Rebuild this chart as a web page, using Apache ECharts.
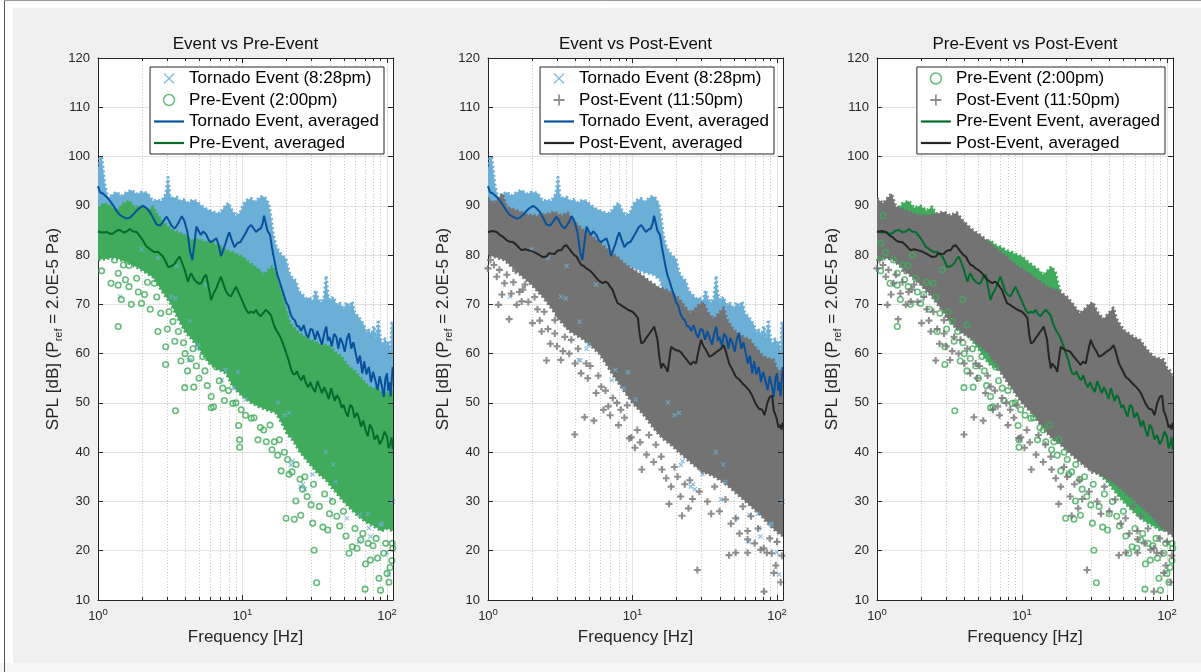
<!DOCTYPE html>
<html>
<head>
<meta charset="utf-8">
<title>SPL spectra: tornado event vs pre/post event</title>
<script src="https://cdn.jsdelivr.net/npm/echarts/dist/echarts.min.js"></script>
<style>
  html, body { margin: 0; padding: 0; background: #f0f0f0; }
  #chart { width: 1201px; height: 672px; }
</style>
</head>
<body>
<div id="chart"></div>
<script>
// ---------------------------------------------------------------------------
// Axis ranges and labels
// ---------------------------------------------------------------------------
const PANEL_TITLES = ['Event vs Pre-Event', 'Event vs Post-Event', 'Pre-Event vs Post-Event'];
const X_NAME = 'Frequency [Hz]';
const Y_NAME = 'SPL [dB] (P{s|ref} = 2.0E-5 Pa)';
const X_MIN = 1, X_MAX = 110;
const Y_MIN = 10, Y_MAX = 120, Y_STEP = 10;
const MINOR_FREQ = [2, 3, 4, 5, 6, 7, 8, 9, 20, 30, 40, 50, 60, 70, 80, 90];

// Legend entries
const NAME_TORNADO = 'Tornado Event (8:28pm)';
const NAME_PRE = 'Pre-Event (2:00pm)';
const NAME_POST = 'Post-Event (11:50pm)';
const NAME_TORNADO_AVG = 'Tornado Event, averaged';
const NAME_PRE_AVG = 'Pre-Event, averaged';
const NAME_PRE_AVG_3 = 'Pre-Event Event, averaged';
const NAME_POST_AVG = 'Post-Event, averaged';

// ---------------------------------------------------------------------------
// Averaged spectra, [frequency Hz, SPL dB]
// ---------------------------------------------------------------------------
const TORNADO_AVG = [
  [1.00, 94.0], [1.03, 92.8], [1.08, 92.5], [1.15, 91.8], [1.21, 91.0], [1.28, 90.0], [1.34, 89.0],
  [1.40, 88.3], [1.48, 87.8], [1.58, 87.4], [1.66, 87.6], [1.75, 88.2], [1.85, 89.0], [1.95, 89.6],
  [2.05, 90.0], [2.15, 89.6], [2.28, 88.8], [2.40, 87.6], [2.54, 86.2], [2.70, 86.0], [2.85, 87.0],
  [2.98, 87.8], [3.10, 87.0], [3.22, 86.0], [3.40, 85.4], [3.60, 86.5], [3.80, 87.9], [3.95, 87.0],
  [4.15, 84.8], [4.35, 80.5], [4.50, 79.0], [4.65, 82.5], [4.80, 85.8], [4.95, 85.0], [5.15, 84.1],
  [5.35, 84.8], [5.60, 84.2], [5.85, 83.0], [6.05, 82.6], [6.30, 83.0], [6.60, 83.4], [6.85, 82.0],
  [7.10, 79.8], [7.35, 81.0], [7.60, 82.2], [7.85, 83.6], [8.10, 84.6], [8.40, 83.2], [8.80, 81.6],
  [9.20, 82.4], [9.70, 82.7], [10.2, 83.8], [10.6, 84.7], [11.0, 85.6], [11.5, 86.1], [12.0, 85.3],
  [12.4, 84.7], [12.9, 85.2], [13.4, 85.4], [13.8, 86.5], [14.1, 88.0], [14.5, 86.4], [14.9, 84.9],
  [15.5, 84.1], [16.0, 81.5], [16.6, 79.0], [17.0, 77.4], [17.5, 75.8], [18.0, 74.8], [18.5, 73.6],
  [19.2, 72.2], [20.0, 70.5], [20.8, 69.6], [21.5, 68.0], [22.2, 67.2], [23.0, 66.8], [23.8, 65.6],
  [24.6, 65.5], [25.5, 64.6], [26.5, 65.8], [27.5, 64.1], [28.5, 63.2], [29.5, 65.0], [30.6, 64.8],
  [31.8, 62.8], [33.0, 64.6], [34.0, 63.4], [35.5, 61.8], [36.8, 64.2], [38.0, 65.5], [39.0, 62.6],
  [40.0, 63.4], [41.5, 61.5], [43.0, 64.0], [44.6, 63.4], [46.0, 61.0], [47.5, 63.2], [49.3, 62.1],
  [51.0, 60.4], [52.8, 63.0], [54.6, 64.1], [56.5, 61.0], [58.5, 62.3], [60.7, 60.1], [62.8, 58.0],
  [65.0, 59.6], [67.4, 56.0], [69.5, 58.4], [72.0, 55.8], [74.8, 57.3], [77.5, 54.2], [80.0, 56.3],
  [83.0, 54.6], [86.0, 52.6], [89.0, 55.4], [92.3, 53.3], [95.0, 51.2], [97.5, 55.0], [100, 56.0],
  [102, 52.5], [104, 54.2], [106, 51.3], [108, 55.0], [109.5, 57.3]
];

const PRE_AVG = [
  [1.00, 84.8], [1.06, 84.6], [1.15, 84.7], [1.22, 84.3], [1.27, 84.4], [1.35, 85.0], [1.42, 85.1],
  [1.50, 84.6], [1.58, 84.8], [1.66, 85.3], [1.75, 84.8], [1.85, 84.7], [1.93, 84.0], [2.00, 83.4],
  [2.08, 82.6], [2.17, 81.7], [2.25, 81.4], [2.34, 81.0], [2.46, 80.6], [2.60, 80.7], [2.72, 80.1],
  [2.82, 79.7], [2.95, 78.6], [3.05, 77.6], [3.14, 77.3], [3.25, 77.8], [3.40, 78.3], [3.55, 79.2],
  [3.68, 79.7], [3.80, 78.6], [3.98, 77.0], [4.10, 75.6], [4.20, 74.6], [4.32, 75.8], [4.42, 76.3],
  [4.60, 75.2], [4.79, 74.6], [5.00, 74.2], [5.18, 74.3], [5.40, 75.5], [5.60, 76.0], [5.80, 73.8],
  [6.07, 70.9], [6.30, 72.2], [6.60, 73.3], [6.85, 74.6], [7.10, 75.6], [7.40, 74.0], [7.70, 72.6],
  [8.00, 71.9], [8.30, 71.6], [8.65, 72.6], [9.00, 73.6], [9.40, 72.4], [9.80, 71.2], [10.2, 70.0],
  [10.6, 68.9], [11.0, 68.2], [11.5, 68.5], [12.0, 68.3], [12.4, 68.9], [12.9, 68.0], [13.4, 67.6],
  [13.9, 68.2], [14.5, 68.9], [15.1, 68.4], [15.8, 67.7], [16.4, 66.0], [17.1, 64.8], [17.8, 64.0],
  [18.5, 63.0], [19.2, 61.8], [20.0, 60.2], [20.8, 58.8], [21.5, 57.2], [22.2, 56.0], [23.0, 55.8],
  [23.8, 56.4], [24.6, 55.3], [25.5, 54.6], [26.5, 55.6], [27.5, 54.0], [28.5, 53.2], [29.5, 54.2],
  [30.6, 53.0], [31.8, 52.2], [33.0, 54.4], [34.0, 54.0], [35.5, 52.0], [36.8, 53.2], [37.9, 52.3],
  [39.5, 50.8], [41.0, 53.0], [42.0, 52.6], [43.5, 50.4], [45.0, 51.6], [46.6, 50.9], [48.5, 49.0],
  [50.0, 49.6], [51.8, 48.2], [53.5, 47.2], [55.5, 49.6], [57.5, 49.2], [59.5, 47.0], [62.0, 48.0],
  [64.0, 46.9], [66.0, 45.2], [68.5, 46.4], [71.0, 44.5], [73.5, 43.2], [76.0, 45.6], [79.0, 44.7],
  [82.0, 42.6], [85.5, 43.5], [89.0, 41.6], [92.5, 42.5], [96.0, 44.2], [100, 43.2], [102.5, 40.8],
  [105, 41.5], [107.5, 43.0], [109.5, 40.6]
];

const POST_AVG = [
  [1.00, 84.7], [1.08, 84.9], [1.15, 84.7], [1.22, 84.0], [1.27, 83.7], [1.35, 83.0], [1.42, 82.7],
  [1.50, 82.6], [1.58, 82.0], [1.65, 81.4], [1.71, 81.0], [1.80, 81.2], [1.90, 81.0], [2.05, 80.7],
  [2.15, 80.4], [2.28, 80.0], [2.40, 79.6], [2.54, 79.7], [2.65, 80.4], [2.75, 80.3], [2.88, 80.2],
  [2.98, 80.7], [3.10, 81.0], [3.22, 81.0], [3.35, 81.8], [3.49, 82.0], [3.62, 81.4], [3.77, 80.7],
  [3.95, 80.0], [4.10, 79.7], [4.25, 78.8], [4.42, 78.0], [4.60, 77.8], [4.79, 77.3], [5.05, 76.9],
  [5.30, 76.3], [5.55, 75.6], [5.77, 75.0], [6.00, 74.6], [6.23, 74.3], [6.50, 74.6], [6.75, 74.3],
  [7.00, 73.6], [7.30, 72.9], [7.60, 71.4], [7.90, 70.2], [8.20, 70.0], [8.56, 69.6], [8.90, 69.3],
  [9.30, 68.9], [9.65, 68.7], [10.0, 68.5], [10.4, 68.0], [10.9, 67.2], [11.2, 64.0], [11.5, 62.1],
  [12.0, 62.4], [12.4, 63.1], [12.9, 63.8], [13.4, 64.5], [13.8, 65.0], [14.1, 65.5], [14.5, 64.2],
  [14.9, 62.8], [15.3, 59.5], [15.8, 57.0], [16.2, 58.0], [16.6, 57.7], [17.1, 57.0], [17.5, 56.3],
  [18.0, 59.0], [18.5, 61.4], [19.2, 61.0], [20.0, 60.7], [20.8, 60.6], [21.6, 60.3], [22.5, 59.6],
  [23.4, 59.0], [24.3, 58.4], [25.3, 57.7], [26.3, 58.4], [27.5, 58.0], [28.6, 60.5], [29.8, 62.8],
  [31.0, 61.5], [32.3, 60.7], [34.0, 59.4], [35.8, 59.7], [37.5, 60.2], [39.7, 60.7], [41.0, 61.0],
  [42.9, 61.7], [44.5, 60.2], [46.6, 58.0], [49.0, 56.8], [51.8, 55.3], [54.5, 54.8], [57.5, 54.0],
  [60.5, 53.4], [64.0, 52.6], [67.0, 51.6], [71.0, 49.9], [75.0, 48.8], [79.0, 48.6], [82.0, 47.5],
  [85.5, 49.9], [89.0, 51.2], [92.5, 51.5], [95.0, 48.4], [97.5, 47.6], [100, 46.5], [102.5, 45.0],
  [105, 45.5], [107.5, 44.6], [109.5, 46.0]
];

// ---------------------------------------------------------------------------
// Dense cores of the raw spectra: upper and lower edges, [frequency Hz, SPL dB]
// ---------------------------------------------------------------------------
const TORNADO_UPPER = [
  [1.00, 97.5], [1.03, 99.5], [1.06, 100.0], [1.09, 97.0], [1.12, 94.0], [1.18, 91.5], [1.25, 92.3],
  [1.35, 92.8], [1.45, 92.0], [1.55, 92.6], [1.70, 93.2], [1.85, 92.4], [2.00, 92.8], [2.20, 92.6],
  [2.40, 91.0], [2.55, 91.2], [2.75, 91.0], [2.95, 92.5], [3.05, 95.8], [3.15, 92.0], [3.30, 91.6],
  [3.50, 91.8], [3.70, 91.0], [3.90, 91.3], [4.20, 90.6], [4.50, 91.2], [4.80, 91.0], [5.20, 90.0],
  [5.60, 89.4], [6.00, 89.0], [6.50, 88.6], [7.00, 88.5], [7.50, 89.8], [8.00, 90.6], [8.50, 89.0],
  [9.00, 88.0], [9.60, 88.6], [10.2, 90.4], [10.8, 91.2], [11.5, 91.5], [12.2, 90.8], [13.0, 91.6],
  [13.8, 92.0], [14.5, 91.5], [15.2, 90.4], [15.8, 87.5], [16.3, 84.4], [17.0, 82.0], [18.0, 80.6],
  [19.0, 79.8], [20.0, 79.3], [21.0, 76.5], [22.2, 75.3], [23.4, 74.8], [24.6, 72.6], [26.0, 72.0],
  [27.5, 71.2], [29.0, 71.4], [30.6, 70.6], [32.0, 72.9], [33.5, 71.0], [35.0, 70.4], [36.5, 71.2],
  [37.9, 75.8], [39.0, 72.0], [40.5, 70.8], [42.5, 71.5], [45.0, 69.8], [47.5, 70.2], [50.0, 69.0],
  [52.5, 70.4], [55.0, 69.6], [57.5, 70.6], [60.0, 68.2], [63.0, 67.6], [66.0, 66.8], [69.0, 66.0],
  [72.0, 64.4], [75.0, 64.8], [78.0, 63.8], [81.0, 65.6], [84.0, 63.0], [87.0, 66.9], [90.0, 63.2],
  [93.0, 62.0], [97.0, 63.0], [100, 61.8], [103, 62.6], [106, 60.5], [108, 66.2], [110, 66.0]
];
const TORNADO_LOWER = [
  [1.00, 86.0], [2.00, 85.0], [3.00, 83.5], [4.50, 80.0], [6.00, 79.0], [8.00, 78.0], [10.0, 77.5],
  [12.0, 76.5], [14.0, 76.0], [15.5, 75.0], [17.0, 70.0], [20.0, 62.0], [25.0, 57.0], [30.0, 54.0],
  [40.0, 51.0], [50.0, 49.0], [70.0, 47.0], [100, 46.0], [110, 46.0]
];

const PRE_UPPER = [
  [1.00, 89.5], [1.10, 90.5], [1.20, 90.0], [1.35, 89.0], [1.50, 90.5], [1.65, 91.0], [1.80, 89.6],
  [2.00, 90.0], [2.20, 89.0], [2.40, 89.8], [2.60, 88.0], [2.80, 86.8], [3.00, 86.0], [3.30, 85.0],
  [3.60, 84.6], [4.00, 84.0], [4.50, 83.0], [5.00, 83.2], [5.50, 82.6], [6.00, 83.0], [6.60, 82.0],
  [7.20, 81.6], [7.70, 81.0], [8.50, 80.6], [9.30, 80.0], [10.0, 79.7], [11.0, 78.6], [12.0, 77.8],
  [13.0, 77.0], [14.0, 76.0], [15.0, 76.8], [16.0, 77.7], [17.0, 76.5], [18.0, 73.5], [19.0, 71.6],
  [20.0, 69.0], [21.0, 66.8], [22.2, 65.5], [23.5, 64.8], [25.0, 64.0], [27.0, 63.5], [29.0, 62.8],
  [32.0, 62.4], [35.0, 61.8], [40.0, 61.5], [44.0, 60.2], [48.0, 59.5], [54.6, 57.3], [60.0, 56.5],
  [66.0, 55.0], [74.8, 53.3], [82.0, 53.0], [90.0, 52.4], [100, 52.0], [110, 52.5]
];
const PRE_LOWER = [
  [1.00, 79.0], [1.30, 79.5], [1.60, 78.5], [2.00, 77.0], [2.40, 75.5], [2.80, 72.5], [3.20, 70.0],
  [3.60, 67.0], [4.00, 64.5], [4.50, 62.8], [5.00, 61.0], [5.90, 58.0], [6.60, 57.0], [7.70, 56.0],
  [8.50, 53.5], [10.0, 51.3], [11.5, 50.0], [13.0, 49.2], [15.0, 48.5], [17.1, 47.9], [19.0, 45.5],
  [20.5, 43.6], [22.2, 42.5], [25.0, 40.0], [29.0, 37.7], [33.0, 35.8], [38.0, 34.3], [43.0, 32.3],
  [49.0, 30.3], [56.0, 28.5], [64.0, 26.9], [72.0, 25.8], [82.0, 24.9], [92.0, 24.0], [100, 24.5],
  [110, 24.0]
];

const POST_UPPER = [
  [1.00, 91.5], [1.10, 90.5], [1.26, 92.5], [1.35, 89.8], [1.60, 89.0], [1.90, 88.2], [2.20, 88.0],
  [2.60, 88.4], [2.90, 88.8], [3.20, 88.0], [3.55, 88.6], [3.90, 87.0], [4.30, 85.8], [4.60, 85.0],
  [5.20, 84.0], [6.00, 82.4], [6.80, 81.0], [7.80, 79.7], [9.00, 78.0], [10.2, 77.0], [11.5, 76.0],
  [13.3, 74.6], [15.0, 73.5], [17.3, 72.9], [20.3, 71.6], [22.5, 70.0], [25.0, 68.2], [27.0, 69.0],
  [29.0, 70.0], [31.0, 70.4], [33.0, 68.5], [36.4, 67.0], [39.0, 68.0], [42.7, 69.3], [45.0, 67.0],
  [50.0, 64.8], [55.0, 64.0], [60.0, 63.2], [65.0, 62.8], [72.0, 61.0], [80.5, 59.4], [88.0, 59.0],
  [94.5, 58.8], [100, 57.0], [105, 56.5], [110, 55.3]
];
const POST_LOWER = [
  [1.00, 80.0], [1.30, 79.0], [1.60, 76.5], [2.00, 74.0], [2.40, 71.5], [2.70, 69.5], [3.20, 66.5],
  [3.70, 64.5], [4.50, 63.0], [5.20, 61.5], [5.90, 60.0], [6.70, 57.5], [7.60, 55.0], [8.70, 52.5],
  [10.0, 50.0], [11.2, 48.5], [12.4, 47.0], [13.5, 45.5], [14.8, 44.0], [16.2, 42.8], [18.5, 41.5],
  [21.0, 40.0], [24.0, 38.5], [27.5, 37.0], [31.0, 36.0], [35.8, 35.2], [41.0, 34.2], [46.6, 33.0],
  [53.0, 31.5], [60.7, 30.0], [69.0, 28.5], [79.0, 26.9], [90.0, 25.0], [103, 23.5], [110, 23.0]
];

// ---------------------------------------------------------------------------
// Raw points outside the dense cores, [frequency Hz, SPL dB]
// ---------------------------------------------------------------------------
const TORNADO_SPARSE = [
  [1.42, 71.6], [2.00, 81.2], [2.60, 79.4], [3.20, 71.6], [3.45, 71.2], [3.50, 77.8], [4.25, 58.7],
  [4.30, 66.5], [4.35, 58.6], [4.80, 61.0], [4.95, 61.8], [5.60, 74.0], [7.20, 54.6], [7.60, 56.7],
  [8.70, 53.0], [9.30, 56.2], [10.5, 50.7], [17.6, 50.1], [19.5, 47.5], [21.0, 48.0], [21.6, 37.4],
  [22.2, 38.2], [25.3, 33.0], [26.2, 33.5], [27.0, 32.5], [30.5, 35.5], [37.7, 40.0], [41.0, 30.4],
  [42.5, 37.5], [44.0, 34.0], [52.8, 26.6], [64.0, 21.8], [64.5, 27.3], [74.0, 27.5], [75.0, 24.6],
  [76.7, 22.9], [90.0, 25.3], [92.0, 25.5], [99.6, 19.7], [103, 15.2], [109.5, 30.0]
];

const PRE_SPARSE = [
  [1.06, 82.4], [1.06, 76.8], [1.10, 88.0], [1.23, 74.3], [1.30, 79.0], [1.38, 76.3], [1.38, 73.9],
  [1.38, 65.5], [1.50, 78.0], [1.64, 73.6], [1.64, 77.9], [1.75, 80.0], [1.85, 75.3], [2.00, 70.2],
  [2.10, 72.0], [2.45, 74.3], [2.72, 68.2], [2.82, 77.0], [2.94, 61.4], [2.94, 57.8], [3.02, 65.0],
  [3.44, 48.4], [3.90, 71.0], [3.91, 62.2], [3.98, 53.1], [4.17, 56.5], [4.20, 65.8], [4.55, 61.0],
  [4.60, 53.2], [5.30, 59.4], [6.07, 49.0], [6.07, 51.3], [6.30, 49.2], [6.60, 57.3], [7.30, 53.0],
  [8.57, 49.9], [9.40, 45.4], [9.55, 42.5], [9.55, 41.0], [9.80, 48.6], [11.5, 46.9], [13.3, 45.0],
  [14.6, 42.1], [16.6, 42.1], [17.5, 39.4], [18.5, 36.2], [20.0, 26.6], [21.0, 35.5], [22.8, 26.4],
  [23.4, 30.1], [25.3, 27.2], [26.0, 32.5], [29.8, 29.3], [30.6, 25.6], [31.3, 20.1], [32.6, 13.5],
  [36.0, 24.8], [38.9, 24.2], [45.0, 27.0], [54.6, 19.5], [57.5, 20.8], [65.9, 22.2], [70.5, 12.2],
  [71.0, 17.3], [76.7, 18.1], [80.0, 21.0], [88.0, 14.4], [90.2, 12.0], [95.0, 19.5], [100, 15.4],
  [103, 13.6], [105, 16.6], [108, 18.0], [108.5, 21.5],
  [1.15, 80.5], [1.45, 71.0], [1.55, 75.0], [1.70, 70.0], [1.90, 72.5], [2.20, 74.5], [2.30, 69.0],
  [2.55, 71.5], [2.60, 64.5], [3.10, 68.5], [3.30, 66.5], [3.40, 62.5], [3.60, 64.5], [3.75, 58.5],
  [4.00, 60.0], [4.40, 59.0], [4.80, 57.5], [5.00, 55.0], [5.50, 56.5], [5.70, 53.5], [6.90, 54.5],
  [7.50, 50.5], [8.00, 52.5], [9.00, 50.0], [10.5, 47.5], [12.0, 47.0], [12.8, 42.5], [14.0, 44.5],
  [15.5, 45.5], [16.0, 40.5], [18.0, 42.5], [19.5, 40.0], [20.5, 38.5], [22.0, 36.0], [23.5, 37.5],
  [25.0, 34.5], [27.0, 35.0], [28.0, 31.0], [31.0, 33.5], [34.0, 29.0], [37.0, 31.5], [40.0, 27.5],
  [42.0, 30.0], [47.0, 25.0], [50.0, 28.0], [52.0, 23.0], [60.0, 24.5], [62.0, 20.5], [68.0, 23.5],
  [74.0, 21.5], [84.0, 22.5], [86.0, 18.5], [98.0, 21.5], [109.5, 20.5]
];

const POST_SPARSE = [
  [1.00, 77.3], [1.04, 79.0], [1.15, 75.6], [1.18, 69.9], [1.30, 74.3], [1.40, 67.0], [1.45, 72.2],
  [1.58, 69.9], [1.71, 70.6], [1.74, 73.0], [2.03, 66.2], [2.28, 66.7], [2.54, 58.6], [2.90, 66.8],
  [2.90, 64.1], [3.19, 58.7], [3.40, 63.4], [3.77, 62.8], [3.98, 43.6], [4.66, 47.1], [4.79, 58.0],
  [5.40, 46.4], [6.08, 53.3], [6.30, 48.6], [6.80, 49.3], [7.30, 51.0], [8.30, 48.6], [9.50, 42.8],
  [9.80, 43.0], [10.4, 40.9], [11.6, 36.5], [15.8, 39.1], [17.1, 34.7], [17.9, 29.5], [19.5, 37.0],
  [22.0, 27.1], [24.4, 28.6], [24.9, 34.3], [28.1, 16.1], [30.5, 36.3], [37.0, 33.0], [44.0, 30.4],
  [46.6, 19.1], [51.8, 19.6], [51.8, 26.6], [58.0, 29.0], [62.6, 19.6], [62.6, 22.3], [62.6, 24.0],
  [66.0, 27.0], [74.0, 24.5], [77.0, 20.2], [81.0, 20.5], [81.3, 11.7], [85.0, 19.6], [89.0, 22.5],
  [98.0, 17.0], [100, 21.8], [106, 13.6], [108, 19.0],
  [1.10, 78.0], [1.20, 77.0], [1.25, 72.0], [1.35, 76.0], [1.50, 74.5], [1.55, 76.8], [1.65, 72.5],
  [1.80, 74.0], [1.90, 70.5], [2.10, 71.5], [2.20, 69.0], [2.35, 64.5], [2.45, 68.5], [2.60, 65.0],
  [2.70, 62.0], [3.00, 61.5], [3.10, 67.5], [3.30, 60.5], [3.55, 65.5], [3.65, 60.0], [4.00, 58.0],
  [4.20, 61.0], [4.40, 56.0], [4.90, 55.0], [5.10, 57.5], [5.60, 52.0], [5.80, 55.5], [6.50, 52.5],
  [7.00, 47.5], [7.80, 50.0], [8.00, 45.5], [8.80, 47.0], [9.20, 49.5], [10.8, 44.5], [11.3, 42.0],
  [12.5, 39.5], [13.0, 43.5], [14.0, 38.0], [14.5, 41.5], [16.0, 36.5], [18.5, 33.0], [20.5, 35.0],
  [21.5, 31.0], [23.0, 33.5], [26.0, 30.5], [29.0, 32.0], [33.0, 30.0], [35.0, 27.5], [40.0, 28.0],
  [48.0, 25.5], [55.0, 23.5], [70.0, 21.5], [92.0, 19.5], [95.0, 15.5]
];

// ---------------------------------------------------------------------------
// Styling
// ---------------------------------------------------------------------------
const FONT = "'Liberation Sans', Arial, Helvetica, sans-serif";
const INK = '#262626';
const GRID_LINE = '#e2e2e2';
const MINOR_LINE = '#c6c6c6';
const COLOR = {
  tornado: '#6baed6', tornadoAvg: '#08519c',
  pre: '#41ab5d', preAvg: '#006d2c',
  post: '#737373', postAvg: '#252525'
};
const X_MARK = 'path://M1.6,0L5,3.4L8.4,0L10,1.6L6.6,5L10,8.4L8.4,10L5,6.6L1.6,10L0,8.4L3.4,5L0,1.6Z';
const X_ICON = 'path://M0.9,0L5,4.1L9.1,0L10,0.9L5.9,5L10,9.1L9.1,10L5,5.9L0.9,10L0,9.1L4.1,5L0,0.9Z';
const PLUS_MARK = 'path://M3.5,0H6.5V3.5H10V6.5H6.5V10H3.5V6.5H0V3.5H3.5Z';
const PLUS_ICON = 'path://M4.2,0H5.8V4.2H10V5.8H5.8V10H4.2V5.8H0V4.2H4.2Z';
const LINE_ICON = 'path://M0,0H30V2.2H0Z';

const TEXT_SIZE = 17;
const TICK_SIZE = 13;
const GRID_LEFT = [98, 488, 877];
const GRID_WIDTH = [295, 295, 296];
const GRID_TOP = 58, GRID_HEIGHT = 542;
const LEGEND_RIGHT = [817, 427, 36];

// ---------------------------------------------------------------------------
// Series builders
// ---------------------------------------------------------------------------
function minorGrid(i) {
  return {
    type: 'custom', name: 'minor-grid-' + i, xAxisIndex: i, yAxisIndex: i, silent: true,
    data: MINOR_FREQ.map(f => [f, Y_MIN]),
    renderItem: (params, api) => {
      const f = api.value(0);
      const b = api.coord([f, Y_MIN]);
      const t = api.coord([f, Y_MAX]);
      const x = Math.round(b[0]) + 0.5;
      return {
        type: 'group',
        children: [
          { type: 'line', shape: { x1: x, y1: b[1], x2: x, y2: t[1] },
            style: { stroke: MINOR_LINE, lineWidth: 1, lineDash: [1, 2] } },
          { type: 'line', shape: { x1: x, y1: b[1], x2: x, y2: b[1] - 3 },
            style: { stroke: INK, lineWidth: 1 } },
          { type: 'line', shape: { x1: x, y1: t[1], x2: x, y2: t[1] + 3 },
            style: { stroke: INK, lineWidth: 1 } }
        ]
      };
    }
  };
}

// Dense part of a raw spectrum: filled region between its upper and lower edge,
// outlined with a broken stroke so the border reads as packed markers.
function core(i, name, upper, lower, color) {
  return {
    type: 'custom', name: name, xAxisIndex: i, yAxisIndex: i, silent: true, clip: true,
    data: [upper[0]],
    itemStyle: { color: color },
    renderItem: (params, api) => {
      const pts = upper.map(p => api.coord(p))
        .concat(lower.slice().reverse().map(p => api.coord(p)));
      return {
        type: 'polygon', shape: { points: pts },
        style: { fill: color, stroke: color, lineWidth: 3, lineDash: [2, 2.5], lineJoin: 'round' }
      };
    }
  };
}

function scatter(i, name, pts, kind) {
  const s = { type: 'scatter', name: name, xAxisIndex: i, yAxisIndex: i, data: pts, silent: true };
  if (kind === 'x') {
    s.symbol = X_MARK; s.symbolSize = 5; s.itemStyle = { color: COLOR.tornado };
  } else if (kind === 'o') {
    s.symbol = 'circle'; s.symbolSize = 5.5;
    s.itemStyle = { color: 'rgba(255,255,255,0)', borderColor: COLOR.pre, borderWidth: 1.6 };
  } else {
    s.symbol = PLUS_MARK; s.symbolSize = 7; s.itemStyle = { color: COLOR.post };
  }
  return s;
}

function avgLine(i, name, pts, color) {
  return {
    type: 'line', name: name, xAxisIndex: i, yAxisIndex: i, data: pts, symbol: 'none',
    silent: true, lineStyle: { color: color, width: 2 }, itemStyle: { color: color }
  };
}

const series = [
  // Event vs Pre-Event
  minorGrid(0),
  core(0, 'tornado-core', TORNADO_UPPER, TORNADO_LOWER, COLOR.tornado),
  scatter(0, NAME_TORNADO, TORNADO_SPARSE, 'x'),
  core(0, 'pre-core', PRE_UPPER, PRE_LOWER, COLOR.pre),
  scatter(0, NAME_PRE, PRE_SPARSE, 'o'),
  avgLine(0, NAME_TORNADO_AVG, TORNADO_AVG, COLOR.tornadoAvg),
  avgLine(0, NAME_PRE_AVG, PRE_AVG, COLOR.preAvg),
  // Event vs Post-Event
  minorGrid(1),
  core(1, 'tornado-core', TORNADO_UPPER, TORNADO_LOWER, COLOR.tornado),
  scatter(1, NAME_TORNADO, TORNADO_SPARSE, 'x'),
  core(1, 'post-core', POST_UPPER, POST_LOWER, COLOR.post),
  scatter(1, NAME_POST, POST_SPARSE, '+'),
  avgLine(1, NAME_TORNADO_AVG, TORNADO_AVG, COLOR.tornadoAvg),
  avgLine(1, NAME_POST_AVG, POST_AVG, COLOR.postAvg),
  // Pre-Event vs Post-Event
  minorGrid(2),
  core(2, 'pre-core', PRE_UPPER, PRE_LOWER, COLOR.pre),
  scatter(2, NAME_PRE, PRE_SPARSE, 'o'),
  core(2, 'post-core', POST_UPPER, POST_LOWER, COLOR.post),
  scatter(2, NAME_POST, POST_SPARSE, '+'),
  avgLine(2, NAME_PRE_AVG_3, PRE_AVG, COLOR.preAvg),
  avgLine(2, NAME_POST_AVG, POST_AVG, COLOR.postAvg)
];

// ---------------------------------------------------------------------------
// Legends
// ---------------------------------------------------------------------------
const LEG = {
  tornado: { name: NAME_TORNADO, icon: X_ICON, itemStyle: { color: COLOR.tornado, borderWidth: 0 } },
  pre: { name: NAME_PRE, icon: 'circle', itemStyle: { color: '#fff', borderColor: COLOR.pre, borderWidth: 1.5 } },
  post: { name: NAME_POST, icon: PLUS_ICON, itemStyle: { color: COLOR.post, borderWidth: 0 } },
  tornadoAvg: { name: NAME_TORNADO_AVG, icon: LINE_ICON, itemStyle: { color: COLOR.tornadoAvg, borderWidth: 0 } },
  preAvg: { name: NAME_PRE_AVG, icon: LINE_ICON, itemStyle: { color: COLOR.preAvg, borderWidth: 0 } },
  preAvg3: { name: NAME_PRE_AVG_3, icon: LINE_ICON, itemStyle: { color: COLOR.preAvg, borderWidth: 0 } },
  postAvg: { name: NAME_POST_AVG, icon: LINE_ICON, itemStyle: { color: COLOR.postAvg, borderWidth: 0 } }
};
const LEGEND_ITEMS = [
  [LEG.tornado, LEG.pre, LEG.tornadoAvg, LEG.preAvg],
  [LEG.tornado, LEG.post, LEG.tornadoAvg, LEG.postAvg],
  [LEG.pre, LEG.post, LEG.preAvg3, LEG.postAvg]
];

// ---------------------------------------------------------------------------
// Axes
// ---------------------------------------------------------------------------
const isDecade = v => {
  const e = Math.round(Math.log10(v));
  return Math.abs(v / Math.pow(10, e) - 1) < 1e-6;
};

const xAxes = [], yAxes = [];
for (let i = 0; i < 3; i++) {
  xAxes.push({
    type: 'log', logBase: 10, gridIndex: i, min: X_MIN, max: X_MAX, position: 'bottom',
    axisLine: { show: true, onZero: false, lineStyle: { color: INK, width: 1 } },
    axisTick: { show: true, inside: true, length: 5, lineStyle: { color: INK } },
    splitLine: { show: true, lineStyle: { color: GRID_LINE, width: 1 } },
    minorTick: { show: false }, minorSplitLine: { show: false },
    axisLabel: {
      margin: 7,
      formatter: v => isDecade(v) ? '{b|10}{e|' + Math.round(Math.log10(v)) + '}' : '',
      rich: {
        b: { fontFamily: FONT, fontSize: TICK_SIZE, color: INK, lineHeight: 18 },
        e: { fontFamily: FONT, fontSize: 9.5, color: INK, verticalAlign: 'top', lineHeight: 11 }
      }
    },
    name: X_NAME, nameLocation: 'middle', nameGap: 29,
    nameTextStyle: { fontFamily: FONT, fontSize: TEXT_SIZE, color: INK }
  });
  yAxes.push({
    type: 'value', gridIndex: i, min: Y_MIN, max: Y_MAX, interval: Y_STEP, position: 'left',
    axisLine: { show: true, onZero: false, lineStyle: { color: INK, width: 1 } },
    axisTick: { show: true, inside: true, length: 5, lineStyle: { color: INK } },
    splitLine: { show: true, lineStyle: { color: GRID_LINE, width: 1 } },
    axisLabel: { fontFamily: FONT, fontSize: TICK_SIZE, color: INK, margin: 8 },
    name: Y_NAME, nameLocation: 'middle', nameGap: 33, nameRotate: 90,
    nameTextStyle: {
      fontFamily: FONT, fontSize: TEXT_SIZE, color: INK, lineHeight: 22,
      rich: { s: { fontFamily: FONT, fontSize: 11, color: INK, verticalAlign: 'bottom', lineHeight: 12 } }
    }
  });
}
for (let i = 0; i < 3; i++) {
  xAxes.push({
    type: 'log', logBase: 10, gridIndex: i, min: X_MIN, max: X_MAX, position: 'top', z: 5,
    axisLine: { show: true, onZero: false, lineStyle: { color: INK, width: 1 } },
    axisTick: { show: true, inside: true, length: 5, lineStyle: { color: INK } },
    axisLabel: { show: false }, splitLine: { show: false }
  });
  yAxes.push({
    type: 'value', gridIndex: i, min: Y_MIN, max: Y_MAX, interval: Y_STEP, position: 'right', z: 5,
    axisLine: { show: true, onZero: false, lineStyle: { color: INK, width: 1 } },
    axisTick: { show: true, inside: true, length: 5, lineStyle: { color: INK } },
    axisLabel: { show: false }, splitLine: { show: false }
  });
}

// ---------------------------------------------------------------------------
// Chart
// ---------------------------------------------------------------------------
const chart = echarts.init(document.getElementById('chart'), null, { renderer: 'canvas' });
chart.setOption({
  animation: false,
  backgroundColor: '#f0f0f0',
  textStyle: { fontFamily: FONT },
  title: PANEL_TITLES.map((t, i) => ({
    text: t, left: GRID_LEFT[i] + GRID_WIDTH[i] / 2, top: 36, textAlign: 'center', padding: 0,
    textStyle: { fontFamily: FONT, fontSize: TEXT_SIZE, fontWeight: 'normal', color: '#111' }
  })),
  grid: GRID_LEFT.map((l, i) => ({
    left: l, top: GRID_TOP, width: GRID_WIDTH[i], height: GRID_HEIGHT,
    show: true, backgroundColor: '#fff', borderWidth: 0, containLabel: false, outerBoundsMode: 'none'
  })),
  xAxis: xAxes,
  yAxis: yAxes,
  legend: LEGEND_ITEMS.map((items, i) => ({
    orient: 'vertical', right: LEGEND_RIGHT[i], top: 67, selectedMode: false,
    backgroundColor: '#fff', borderColor: INK, borderWidth: 1, borderRadius: 0,
    padding: [3, 5, 2.5, 4], itemWidth: 30, itemHeight: 11, itemGap: 4.5,
    textStyle: { fontFamily: FONT, fontSize: TEXT_SIZE, color: '#000', lineHeight: 15 },
    data: items
  })),
  graphic: [
    { type: 'rect', shape: { x: 0, y: 0, width: 13, height: 672 }, style: { fill: '#fff' }, silent: true },
    { type: 'rect', shape: { x: 0, y: 0, width: 1201, height: 8 }, style: { fill: '#fff' }, silent: true },
    { type: 'rect', shape: { x: 0, y: 663, width: 1201, height: 9 }, style: { fill: '#f6f6f6' }, silent: true },
    { type: 'line', shape: { x1: 4.5, y1: 0, x2: 4.5, y2: 672 }, style: { stroke: '#555', lineWidth: 1 }, silent: true },
    { type: 'line', shape: { x1: 4, y1: 0.5, x2: 1201, y2: 0.5 }, style: { stroke: '#999', lineWidth: 1 }, silent: true }
  ],
  series: series
});
</script>
</body>
</html>
